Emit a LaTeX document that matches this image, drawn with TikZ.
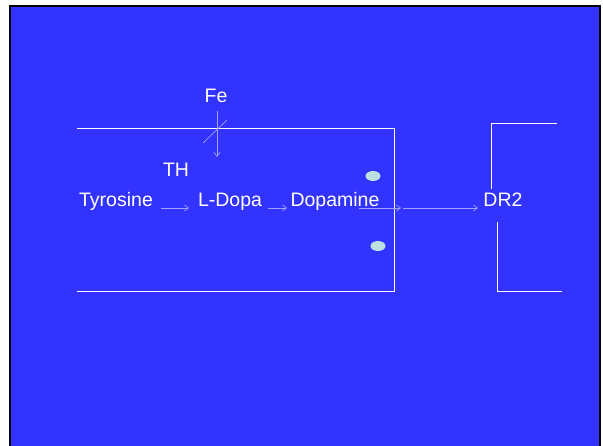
\documentclass[tikz,border=0pt]{standalone}
\usepackage{fontspec}
\setmainfont{Liberation Sans}
\usetikzlibrary{arrows.meta}
\definecolor{bg}{HTML}{3333FF}
\definecolor{arr}{HTML}{A0A0FF}
\definecolor{dot}{HTML}{BBE0E3}
\begin{document}
\begin{tikzpicture}[x=1pt,y=-1pt,
  lbl/.style={text=white,font=\fontsize{19.5}{21}\selectfont,inner sep=0pt,anchor=base},
  wline/.style={draw=white,line width=1pt},
  flow/.style={draw=arr,line width=0.7pt,-{Straight Barb[length=4pt,width=6pt]}},
  vesicle/.style={fill=dot,draw=none}]
\useasboundingbox (0,0) rectangle (603,446);
\fill[white] (0,0) rectangle (603,446);
\draw[fill=bg,draw=black,line width=2pt] (10,6) rectangle (600,447);
% cell outlines
\draw[wline] (77,129) -- (394,129) -- (394,292) -- (77,292);
\draw[wline] (557,124) -- (491,124) -- (491,189);
\draw[wline] (497,222) -- (497,292) -- (562,292);
% labels
\node[lbl] (fe) at (216,103) {Fe};
\node[lbl] (th) at (176,177) {TH};
\node[lbl] (tyr) at (116,207) {Tyrosine};
\node[lbl] (ldopa) at (230,207) {L-Dopa};
\node[lbl] (dopa) at (335,207) {Dopamine};
\node[lbl] (dr2) at (503,207) {DR2};
% coordinates for arrows
\coordinate (feA) at (217,111);
\coordinate (feB) at (217,157);
\coordinate (s1) at (203,143);
\coordinate (s2) at (227,120);
\coordinate (a1) at (161,208);
\coordinate (a2) at (189,208);
\coordinate (b1) at (268,208);
\coordinate (b2) at (287,208);
\coordinate (c1) at (359,208);
\coordinate (c2) at (401,208);
\coordinate (d1) at (403,208);
\coordinate (d2) at (478,208);
\draw[flow] (feA) -- (feB);
\draw[draw=arr,line width=0.7pt] (s1) -- (s2);
\draw[flow] (a1) -- (a2);
\draw[flow] (b1) -- (b2);
\draw[flow] (c1) -- (c2);
\draw[flow] (d1) -- (d2);
% vesicles
\fill[vesicle] (373,176) ellipse (7.5pt and 5pt);
\fill[vesicle] (378,246) ellipse (7.5pt and 5pt);
\end{tikzpicture}
\end{document}
